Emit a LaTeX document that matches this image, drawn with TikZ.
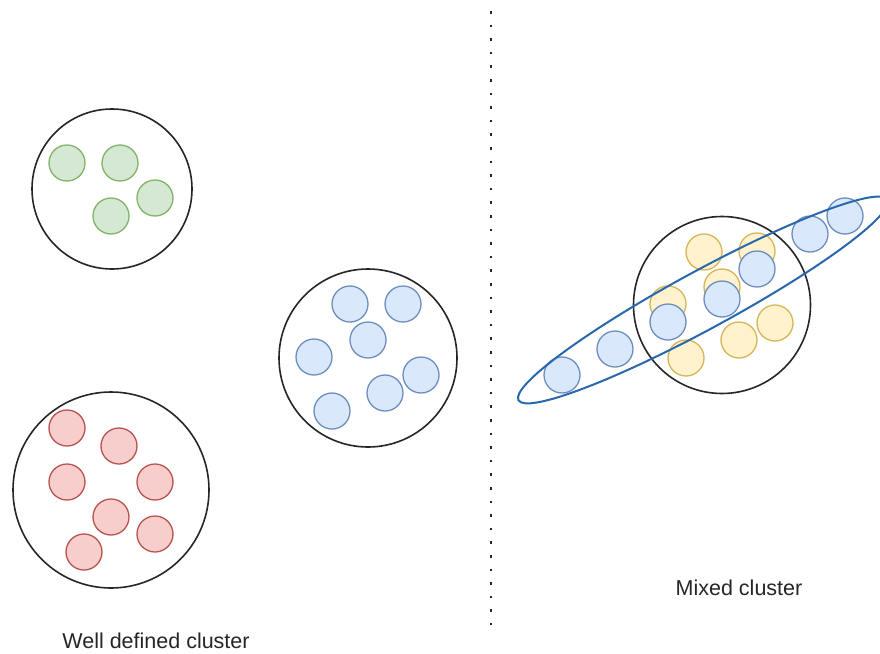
\documentclass[tikz,border=0pt]{standalone}
\usepackage{fontspec}
\setmainfont{Liberation Sans}
\usetikzlibrary{shapes.geometric}

\definecolor{bluefill}{HTML}{DAE8FC}
\definecolor{bluestroke}{HTML}{6C8EBF}
\definecolor{greenfill}{HTML}{D5E8D4}
\definecolor{greenstroke}{HTML}{82B366}
\definecolor{redfill}{HTML}{F8CECC}
\definecolor{redstroke}{HTML}{B85450}
\definecolor{yellowfill}{HTML}{FFF2CC}
\definecolor{yellowstroke}{HTML}{D6B656}
\definecolor{bandblue}{HTML}{2A68AE}

\begin{document}
\begin{tikzpicture}[x=1pt, y=-1pt,
  point/.style={circle, inner sep=0pt, minimum size=36pt, line width=1.3pt},
  bluept/.style={point, fill=bluefill, draw=bluestroke},
  greenpt/.style={point, fill=greenfill, draw=greenstroke},
  redpt/.style={point, fill=redfill, draw=redstroke},
  yellowpt/.style={point, fill=yellowfill, draw=yellowstroke},
  cluster/.style={circle, draw=black!85, line width=1.6pt, inner sep=0pt},
  caption/.style={font=\fontsize{21.5pt}{24pt}\selectfont, text=black!85, inner sep=0pt}
]
\useasboundingbox (0,0) rectangle (880,653);
\clip (0,0) rectangle (880,653);
\fill[white] (0,0) rectangle (880,653);

% separator between the two halves
\coordinate (sepTop) at (491,11);
\coordinate (sepBot) at (491,625);
\draw[black!85, line width=2.6pt, dash pattern=on 2.6pt off 11pt] (sepTop) -- (sepBot);

% ---- well defined clusters ----
\node[cluster, minimum size=160pt] (gC) at (112,189) {};
\node[greenpt] (g1) at (67,163) {};
\node[greenpt] (g2) at (120,163) {};
\node[greenpt] (g3) at (155,198) {};
\node[greenpt] (g4) at (111,216) {};

\node[cluster, minimum size=196pt] (rC) at (111,490) {};
\node[redpt] (r1) at (67,428) {};
\node[redpt] (r2) at (119,446) {};
\node[redpt] (r3) at (67,482) {};
\node[redpt] (r4) at (155,482) {};
\node[redpt] (r5) at (111,517) {};
\node[redpt] (r6) at (155,534) {};
\node[redpt] (r7) at (84,552) {};

\node[cluster, minimum size=178pt] (bC) at (368,358) {};
\node[bluept] (b1) at (350,304) {};
\node[bluept] (b2) at (403,304) {};
\node[bluept] (b3) at (368,340) {};
\node[bluept] (b4) at (314,357) {};
\node[bluept] (b5) at (421,375) {};
\node[bluept] (b6) at (385,393) {};
\node[bluept] (b7) at (332,411) {};

\node[caption] (wellLabel) at (156,641) {Well defined cluster};

% ---- mixed cluster ----
\node[cluster, minimum size=177pt] (mC) at (722,305) {};
\node[yellowpt] (y1) at (704,252) {};
\node[yellowpt] (y2) at (757,251) {};
\node[yellowpt] (y3) at (722,287) {};
\node[yellowpt] (y4) at (668,304) {};
\node[yellowpt] (y5) at (686,358) {};
\node[yellowpt] (y6) at (739,340) {};
\node[yellowpt] (y7) at (775,323) {};

\node[bluept] (m1) at (562,375) {};
\node[bluept] (m2) at (615,349) {};
\node[bluept] (m3) at (668,322) {};
\node[bluept] (m4) at (722,299) {};
\node[bluept] (m5) at (757,269) {};
\node[bluept] (m6) at (810,234) {};
\node[bluept] (m7) at (845,216) {};

\node[ellipse, draw=bandblue, line width=2pt, inner sep=0pt,
      minimum width=420pt, minimum height=58pt, rotate=28.5] (band) at (703,300) {};

\node[caption] (mixedLabel) at (739,588) {Mixed cluster};
\end{tikzpicture}
\end{document}
